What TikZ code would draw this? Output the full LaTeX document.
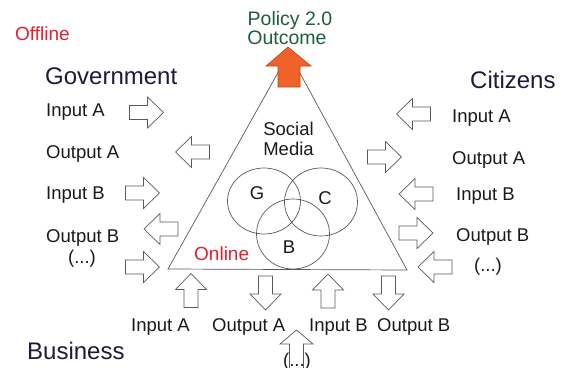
\documentclass[tikz,border=0pt]{standalone}
\usepackage{fontspec}
\setmainfont{Liberation Sans}
\definecolor{offred}{HTML}{E2202E}
\definecolor{polgreen}{HTML}{1E5E3C}
\definecolor{navy}{HTML}{1C1C3A}
\definecolor{labc}{HTML}{1A1A1A}
\definecolor{agray}{HTML}{5A5A5A}
\definecolor{orfill}{HTML}{F0622A}
\definecolor{ordraw}{HTML}{B04A20}
\begin{document}
\begin{tikzpicture}[x=1pt,y=-1pt,
  lab/.style={font=\fontsize{18.5}{20}\selectfont, text=labc, inner sep=0},
  big/.style={font=\fontsize{24}{26}\selectfont, text=navy, inner sep=0},
  redtxt/.style={font=\fontsize{19}{21}\selectfont, text=offred, inner sep=0},
  greentxt/.style={font=\fontsize{19.5}{21}\selectfont, text=polgreen, inner sep=0},
  triline/.style={draw=agray, line width=0.7pt},
  arrline/.style={draw=agray, line width=0.7pt, fill=white},
  barrow/.pic={\path[arrline] (-17,-7) -- (1,-7) -- (1,-15.5) -- (17,0) -- (1,15.5) -- (1,7) -- (-17,7) -- cycle;}]
\useasboundingbox (0,0) rectangle (565,367);
\clip (0,0) rectangle (565,367);
\fill[white] (0,0) rectangle (565,367);

% triangle
\coordinate (tl) at (168,269);
\coordinate (tt) at (289,53);
\coordinate (tr) at (407,270);
\draw[triline] (tl) -- (tt) -- (tr) -- cycle;

% Venn circles
\draw[triline] (264,201) ellipse [x radius=36.5, y radius=33];
\draw[triline] (321,202) ellipse [x radius=36.5, y radius=34];
\draw[triline] (293,234) ellipse [x radius=36.5, y radius=35];

% orange outcome arrow
\path[fill=orfill, draw=ordraw, line width=0.6pt]
  (288,47) -- (311,66) -- (300,66) -- (300,87) -- (278,87) -- (278,66) -- (266,66) -- cycle;

% top texts
\node[redtxt, anchor=base west] (offline) at (15,40) {Offline};
\node[greentxt, anchor=base] (policy) at (290,25) {Policy 2.0};
\node[greentxt, anchor=base] (outcome) at (287,44.3) {Outcome};

% inside triangle
\node[lab, anchor=base] (social) at (288.5,135) {Social};
\node[lab, anchor=base] (media) at (288.5,155) {Media};
\node[lab, anchor=base] (g) at (257,199.6) {G};
\node[lab, anchor=base] (c) at (325,204.6) {C};
\node[lab, anchor=base] (b) at (289,253.6) {B};
\node[redtxt, anchor=base west] (online) at (194,260) {Online};

% government side
\node[big, anchor=base west] (gov) at (45,84.6) {Government};
\node[lab, anchor=base west] (gia) at (46,116.6) {Input A};
\node[lab, anchor=base west] (goa) at (46,158.6) {Output A};
\node[lab, anchor=base west] (gib) at (46,199.6) {Input B};
\node[lab, anchor=base west] (gob) at (46,242.6) {Output B};
\node[lab, anchor=base] (gdots) at (82,263) {(...)};
\pic (la1) at (146.5,112.5) {barrow};
\pic[rotate=180] (la2) at (192.5,152) {barrow};
\pic (la3) at (142.5,193) {barrow};
\pic[rotate=180] (la4) at (161,229) {barrow};
\pic (la5) at (142.5,267) {barrow};

% citizens side
\node[big, anchor=base west] (cit) at (470,88.6) {Citizens};
\node[lab, anchor=base west] (cia) at (452,122.6) {Input A};
\node[lab, anchor=base west] (coa) at (452,164.6) {Output A};
\node[lab, anchor=base west] (cib) at (456,200) {Input B};
\node[lab, anchor=base west] (cob) at (456,241.6) {Output B};
\node[lab, anchor=base] (cdots) at (488,271) {(...)};
\pic[rotate=180] (ra1) at (413.5,114) {barrow};
\pic (ra2) at (384.5,157) {barrow};
\pic[rotate=180] (ra3) at (416,194) {barrow};
\pic (ra4) at (416,233) {barrow};
\pic[rotate=180] (ra5) at (435,267) {barrow};

% business side
\node[big, anchor=base west] (bus) at (27,359.6) {Business};
\node[lab, anchor=base west] (bia) at (131,331.6) {Input A};
\node[lab, anchor=base west] (boa) at (212,331.6) {Output A};
\node[lab, anchor=base west] (bib) at (309,331.6) {Input B};
\node[lab, anchor=base west] (bob) at (377,331.6) {Output B};
\node[lab, anchor=base] (bdots) at (297,366.5) {(...)};
\pic[rotate=90] (ba1) at (191,290.5) {barrow};
\pic[rotate=-90] (ba2) at (265.5,293) {barrow};
\pic[rotate=90] (ba3) at (328,291) {barrow};
\pic[rotate=-90] (ba4) at (388.5,293) {barrow};
\path[draw=agray, line width=0.7pt] (296.5,330) -- (313,344) -- (303.5,344) -- (303.5,372) -- (289.5,372) -- (289.5,344) -- (280,344) -- cycle;
\end{tikzpicture}
\end{document}
